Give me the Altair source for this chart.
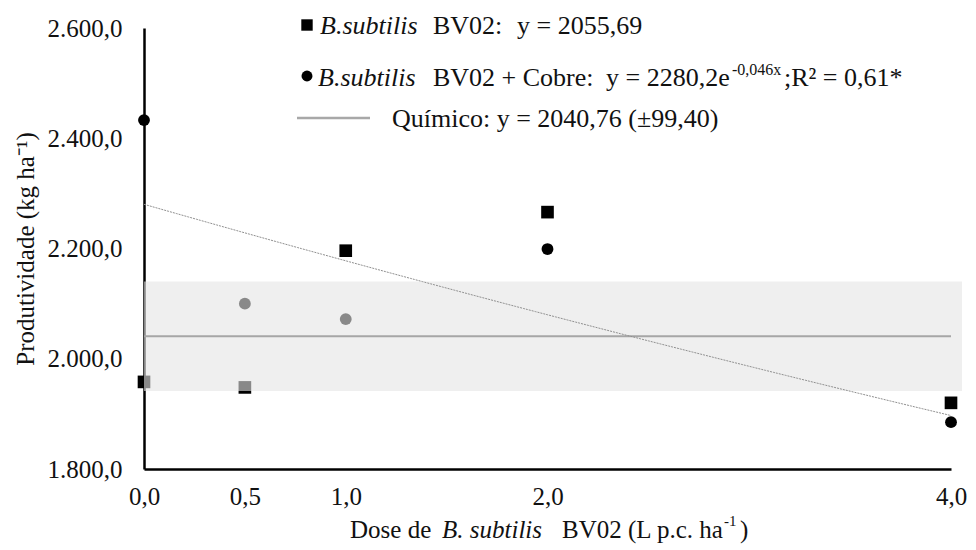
import altair as alt
import pandas as pd

# ---------------- data ----------------
doses = [0.0, 0.5, 1.0, 2.0, 4.0]
bv02 = [1958, 1948, 2196, 2266, 1920]
bv02_cobre = [2433, 2100, 2072, 2199, 1885]
quimico_media = 2040.76
quimico_dp = 99.40
exp_a = 2280.2
exp_b = -0.046
y_ticks = [1800, 2000, 2200, 2400, 2600]

FONT = "Liberation Serif"
X0, Y0 = 144, 28          # page position of plot origin
W, H = 807, 441
LS = 26                   # legend font size
TS = 25                   # title / tick font size

sq = pd.DataFrame({"dose": doses, "prod": bv02})
ci = pd.DataFrame({"dose": doses, "prod": bv02_cobre})
band = pd.DataFrame({"x0": [min(doses)], "x1": [max(doses)], "m": [quimico_media], "sd": [quimico_dp]})
one = pd.DataFrame({"a": [0]})

xs = alt.Scale(domain=[0, 4], nice=False, zero=False)
ys = alt.Scale(domain=[1800, 2600], nice=False, zero=False)

xaxis = alt.Axis(values=doses, labelExpr="replace(format(datum.value, '.1f'), '.', ',')",
                 ticks=False, grid=False, domainColor="black", domainWidth=2.5,
                 labelFont=FONT, labelFontSize=TS, labelColor="#111", labelPadding=15,
                 labelFlush=False, labelOverlap=False, title=None)
yaxis = alt.Axis(values=y_ticks,
                 labelExpr="replace(replace(replace(format(datum.value, ',.1f'), ',', 'T'), '.', ','), 'T', '.')",
                 ticks=False, grid=False, domainColor="black", domainWidth=2.5,
                 labelFont=FONT, labelFontSize=TS, labelColor="#111", labelPadding=22,
                 labelFlush=False, labelOverlap=False,
                 title="Produtividade (kg ha⁻¹)", titleFont=FONT, titleFontSize=TS,
                 titleFontWeight="normal", titleColor="#111", titlePadding=9)

squares = alt.Chart(sq).mark_point(shape="square", filled=True, size=160, color="black", opacity=1).encode(
    x=alt.X("dose:Q", scale=xs, axis=xaxis),
    y=alt.Y("prod:Q", scale=ys, axis=yaxis),
)
circles = alt.Chart(ci).mark_point(shape="circle", filled=True, size=140, color="black", opacity=1).encode(
    x=alt.X("dose:Q", scale=xs),
    y=alt.Y("prod:Q", scale=ys),
)
rect = alt.Chart(band).transform_calculate(lo="datum.m - datum.sd", hi="datum.m + datum.sd").mark_rect(
    color="#e4e4e4", opacity=0.6, x2Offset=11).encode(
    x=alt.X("x0:Q", scale=xs), x2="x1:Q",
    y=alt.Y("lo:Q", scale=ys), y2="hi:Q",
)
chem = alt.Chart(band).mark_rule(color="#a6a6a6", strokeWidth=2).encode(
    x=alt.X("x0:Q", scale=xs), x2="x1:Q", y=alt.Y("m:Q", scale=ys),
)
trend = alt.Chart(alt.sequence(0, 4.001, 0.02, as_="dose")).transform_calculate(
    prod=f"{exp_a}*exp({exp_b}*datum.dose)").mark_line(
    color="#8f8f8f", strokeWidth=1, strokeDash=[2, 1]).encode(
    x=alt.X("dose:Q", scale=xs), y=alt.Y("prod:Q", scale=ys),
)


def txt(s, px, py, size=LS, style="normal"):
    return alt.Chart(one).mark_text(text=s, font=FONT, fontSize=size, fontStyle=style,
                                    align="left", baseline="middle", color="#111").encode(
        x=alt.value(px - X0), y=alt.value(py - Y0))


def sym(shape, px, py, size):
    return alt.Chart(one).mark_point(shape=shape, filled=True, size=size, color="black", opacity=1).encode(
        x=alt.value(px - X0), y=alt.value(py - Y0))


leg_line = alt.Chart(one).mark_rule(color="#a8a8a8", strokeWidth=2.5).encode(
    x=alt.value(297 - X0), x2=alt.value(370 - X0), y=alt.value(118 - Y0))

texts = [
    sym("square", 307, 25, 130),
    txt("B.subtilis", 320, 26, style="italic"),
    txt("BV02:", 433, 26),
    txt("y = 2055,69", 517, 26),
    sym("circle", 307, 76, 120),
    txt("B.subtilis", 318, 78, style="italic"),
    txt("BV02 + Cobre:", 433, 78),
    txt("y = 2280,2e", 606, 78),
    txt("-0,046x", 732, 70, size=16),
    txt(";R² = 0,61*", 784, 78),
    leg_line,
    txt("Químico: y = 2040,76 (±99,40)", 392, 119),
    txt("Dose de", 350, 530, size=TS),
    txt("B. subtilis", 442, 530, size=TS, style="italic"),
    txt("BV02 (L p.c. ha", 562, 530, size=TS),
    txt("-1", 724, 521, size=15),
    txt(")", 740, 530, size=TS),
]

chart = alt.layer(squares, circles, rect, chem, trend, *texts).properties(
    width=W, height=H,
    autosize=alt.AutoSizeParams(type="none"),
    padding={"left": X0 - 8, "top": Y0 - 8, "right": 960 - (X0 - 8) - W, "bottom": 80},
    background="white",
).configure_view(stroke=None)

chart.save("out.html", embed_options={"renderer": "svg", "actions": False})
